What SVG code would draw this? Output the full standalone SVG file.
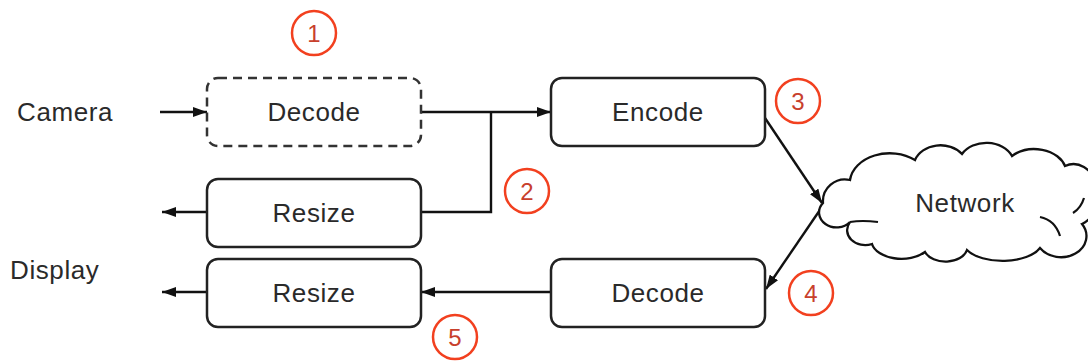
<svg xmlns="http://www.w3.org/2000/svg" width="1088" height="363" viewBox="0 0 1088 363">
<defs>
<style>
.box{fill:#fff;stroke:#222;stroke-width:2.5}
.dash{fill:#fff;stroke:#333;stroke-width:2.5;stroke-dasharray:9 6}
.lbl{font-family:"Liberation Sans",Arial,sans-serif;font-size:26px;fill:#2a2a2a;text-anchor:middle;letter-spacing:0.6px}
.side{font-family:"Liberation Sans",Arial,sans-serif;font-size:26px;fill:#2a2a2a;letter-spacing:0.6px}
.edge{fill:none;stroke:#111;stroke-width:2.4}
.mark circle{fill:none;stroke:#f2401f;stroke-width:2.5}
.mark text{font-family:"Liberation Sans",Arial,sans-serif;font-size:24px;fill:#c8402c;text-anchor:middle}
</style>
<marker id="ah" viewBox="0 0 14 10" refX="14" refY="5" markerWidth="14" markerHeight="10" markerUnits="userSpaceOnUse" orient="auto">
<path d="M0,0 L14,5 L0,10 Z" fill="#111"/>
</marker>
</defs>
<rect width="1088" height="363" fill="#fff"/>

<g id="camera-label"><text class="side" x="17" y="121">Camera</text></g>
<g id="display-label"><text class="side" x="10" y="279">Display</text></g>

<g id="connectors">
<path class="edge" d="M160,112 H207" marker-end="url(#ah)"/>
<path class="edge" d="M421,112 H551" marker-end="url(#ah)"/>
<path class="edge" d="M491,112 V212 H421"/>
<path class="edge" d="M207,212 H162" marker-end="url(#ah)"/>
<path class="edge" d="M765,118 L822,203" marker-end="url(#ah)"/>
<path class="edge" d="M824,204 L766,289" marker-end="url(#ah)"/>
<path class="edge" d="M551,292 H421" marker-end="url(#ah)"/>
<path class="edge" d="M207,292 H162" marker-end="url(#ah)"/>
</g>

<g id="decode-cam"><rect class="dash" x="207" y="78" width="214" height="68" rx="11"/><text class="lbl" x="314" y="121">Decode</text></g>
<g id="encode"><rect class="box" x="551" y="78" width="214" height="68" rx="11"/><text class="lbl" x="658" y="121">Encode</text></g>
<g id="resize-top"><rect class="box" x="207" y="179" width="214" height="68" rx="11"/><text class="lbl" x="314" y="222">Resize</text></g>
<g id="resize-bottom"><rect class="box" x="207" y="259" width="214" height="68" rx="11"/><text class="lbl" x="314" y="302">Resize</text></g>
<g id="decode-net"><rect class="box" x="551" y="259" width="214" height="68" rx="11"/><text class="lbl" x="658" y="302">Decode</text></g>

<g id="network">
<path fill="#fff" stroke="#111" stroke-width="2.3" d="M823,203 A22,22 0 0 1 850,180 A40,30 0 0 1 915,160 A27,22 0 0 1 962,154 A28,22 0 0 1 1012,156 A32,24 0 0 1 1065,166 A24,30 0 0 1 1082,224 A24,20 0 0 1 1040,248 A40,20 0 0 1 967,250 A22,15 0 0 1 925,252 A30,18 0 0 1 872,244 A18,15 0 0 1 850,222 A14,12 0 0 1 823,203 Z"/>
<path fill="none" stroke="#111" stroke-width="2.2" d="M850,222 Q862,220 878,222"/>
<path fill="none" stroke="#111" stroke-width="2.2" d="M1040,217 Q1055,220 1060,236"/>
<path fill="none" stroke="#111" stroke-width="2.2" d="M1084,198 Q1081,208 1073,213"/>
<text class="lbl" x="965" y="212">Network</text>
</g>

<g id="markers" class="mark">
<g id="m1"><circle cx="314" cy="33" r="22"/><text x="314" y="42">1</text></g>
<g id="m2"><circle cx="527" cy="191" r="22"/><text x="527" y="200">2</text></g>
<g id="m3"><circle cx="798" cy="101" r="22"/><text x="798" y="110">3</text></g>
<g id="m4"><circle cx="811" cy="293" r="22"/><text x="811" y="302">4</text></g>
<g id="m5"><circle cx="455" cy="337" r="22"/><text x="455" y="346">5</text></g>
</g>
</svg>
